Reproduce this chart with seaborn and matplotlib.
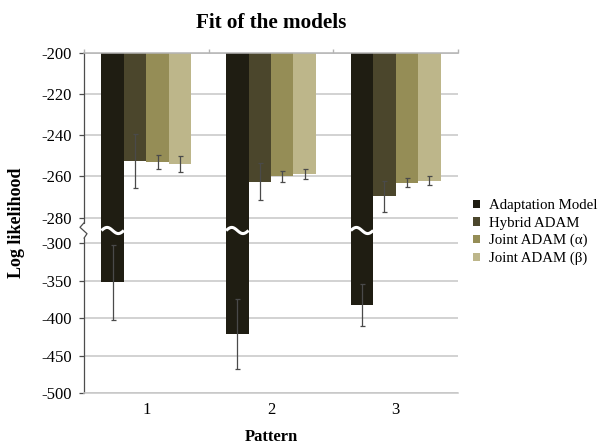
import numpy as np
import pandas as pd
import matplotlib
matplotlib.use("Agg")
import matplotlib.pyplot as plt
import matplotlib.transforms as mtransforms
import seaborn as sns

# ---- data ----
patterns = ["1", "2", "3"]
models = ["Adaptation Model", "Hybrid ADAM", "Joint ADAM (α)", "Joint ADAM (β)"]
adaptation = [-352, -421, -382]
adaptation_err = [50, 47, 28]
hybrid = [-252.5, -262.5, -269.5]
hybrid_err = [13, 9, 7.5]
joint_alpha = [-253, -260, -263]
joint_alpha_err = [3.5, 2.5, 2.3]
joint_beta = [-254, -259, -262]
joint_beta_err = [3.7, 2.4, 2.2]
colors = ["#1f1d12", "#4b462c", "#958d56", "#bdb68a"]
yticks = [-200, -220, -240, -260, -280, -300, -350, -400, -450, -500]

values = [adaptation, hybrid, joint_alpha, joint_beta]
errors = [adaptation_err, hybrid_err, joint_alpha_err, joint_beta_err]

rows = []
for m, vals in zip(models, values):
    for p, v in zip(patterns, vals):
        rows.append({"Pattern": p, "Model": m, "Value": v})
df = pd.DataFrame(rows)

# ---- broken (piecewise linear) y scale ----
V_BRK = np.array([-500.0, -300.0, -280.0, -200.0])
P_BRK = np.array([0.0, 150.0, 175.6, 340.6])
s_bot = (P_BRK[1] - P_BRK[0]) / (V_BRK[1] - V_BRK[0])
s_top = (P_BRK[3] - P_BRK[2]) / (V_BRK[3] - V_BRK[2])


def fwd(v):
    v = np.asarray(v, dtype=float)
    out = np.interp(v, V_BRK, P_BRK)
    out = out + np.where(v > V_BRK[-1], (v - V_BRK[-1]) * s_top, 0.0)
    out = out + np.where(v < V_BRK[0], (v - V_BRK[0]) * s_bot, 0.0)
    return out


def inv(p):
    p = np.asarray(p, dtype=float)
    out = np.interp(p, P_BRK, V_BRK)
    out = out + np.where(p > P_BRK[-1], (p - P_BRK[-1]) / s_top, 0.0)
    out = out + np.where(p < P_BRK[0], (p - P_BRK[0]) / s_bot, 0.0)
    return out


sns.set_theme(style="white")
plt.rcParams["font.family"] = ["Liberation Serif", "DejaVu Serif"]
plt.rcParams["text.color"] = "black"
plt.rcParams["axes.labelcolor"] = "black"

W, H = 598, 444
fig = plt.figure(figsize=(W / 100, H / 100), dpi=100)
ax_l, ax_r, ax_t, ax_b = 84, 458, 52.7, 393.3
ax = fig.add_axes([ax_l / W, (H - ax_b) / H, (ax_r - ax_l) / W, (ax_b - ax_t) / H])

ax.set_yscale("function", functions=(fwd, inv))

sns.barplot(data=df, x="Pattern", y="Value", hue="Model", order=patterns,
            hue_order=models, palette=colors, width=0.72, errorbar=None,
            saturation=1, linewidth=0, ax=ax)

ax.set_ylim(-500, -200)
ax.set_xlim(-0.5, 2.5)

# error bars at bar centres
for cont, errs, vals in zip(ax.containers, errors, values):
    xs = [b.get_x() + b.get_width() / 2 for b in cont.patches]
    ax.errorbar(xs, vals, yerr=errs, fmt="none", ecolor="#4a4a4a",
                elinewidth=0.9, capsize=1.8, capthick=0.9, zorder=5)

# wavy break across the long bars
for b in ax.containers[0].patches:
    x0, w = b.get_x(), b.get_width()
    xs = np.linspace(x0, x0 + w, 60)
    ys = -290 + 2.4 * np.sin(2 * np.pi * (xs - x0) / w)
    ax.plot(xs, ys, color="white", lw=2.2, zorder=6, solid_capstyle="butt")

# grid and spines
ax.set_axisbelow(True)
ax.yaxis.grid(True, color="#c6c6c6", linewidth=1.1)
ax.xaxis.grid(False)
ax.set_yticks(yticks)
ax.set_yticklabels([str(t) for t in yticks])
ax.spines["right"].set_visible(False)
ax.spines["top"].set_color("#b4b4b4")
ax.spines["top"].set_linewidth(1.1)
ax.spines["bottom"].set_color("#c6c6c6")
ax.spines["bottom"].set_linewidth(1.1)
ax.spines["left"].set_visible(False)

# left axis line with break zig-zag
bt = mtransforms.blended_transform_factory(ax.transAxes, ax.transData)
axc = "#4d4d4d"
ax.plot([0, 0], [-200, -284], color=axc, lw=0.9, transform=bt, clip_on=False)
ax.plot([0, 0], [-296, -500], color=axc, lw=0.9, transform=bt, clip_on=False)
dx = 1.0 / (ax_r - ax_l)
ax.plot([0, -4 * dx, 3 * dx, 0], [-284, -287.5, -292.5, -296], color=axc,
        lw=0.9, transform=bt, clip_on=False)

ax.tick_params(axis="y", which="major", direction="out", length=3.5, width=0.9,
               color=axc, left=True, labelsize=12, pad=5.2, labelcolor="black")
ax.tick_params(axis="x", which="major", length=0, labelsize=12, pad=6,
               labelcolor="black")
ax.set_xticks([-0.5, 0.5, 1.5, 2.5], minor=True)
ax.tick_params(axis="x", which="minor", top=True, bottom=False, direction="out",
               length=3, width=1, color="#b4b4b4")

ax.set_xlabel("Pattern", fontsize=12, fontweight="bold", color="black")
ax.set_ylabel("Log likelihood", fontsize=13, fontweight="bold", color="black")
ax.xaxis.set_label_coords(0.5, (ax_b - 429) / (ax_b - ax_t))
ax.yaxis.set_label_coords((25 - ax_l) / (ax_r - ax_l), 0.5)

ax.set_title("Fit of the models", fontsize=15.2, fontweight="bold", color="black",
             y=(ax_b - 28) / (ax_b - ax_t), pad=0, va="baseline")

handles, labels = ax.get_legend_handles_labels()
leg = ax.legend(handles, labels, loc="center left",
                bbox_to_anchor=(473 / W, (H - 232.3) / H), bbox_transform=fig.transFigure,
                frameon=False, fontsize=10.7, handlelength=0.5, handleheight=0.5,
                handletextpad=0.6, labelspacing=0.29, borderpad=0, borderaxespad=0)
for t in leg.get_texts():
    t.set_color("black")

fig.savefig("out.png", dpi=100)
